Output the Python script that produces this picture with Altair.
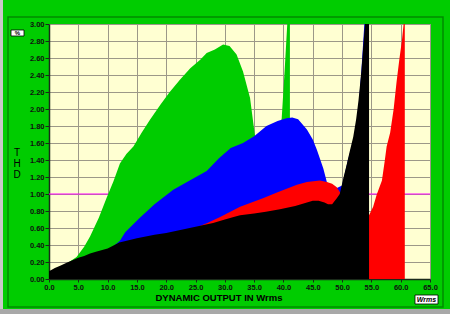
import altair as alt
import pandas as pd

# ---- data (x = dynamic output in Wrms, y = THD %) ----
green_p = [0, 3, 4.7, 6, 7, 8.5, 9.8, 11, 12.1, 13.2, 14.4, 15.8, 17.2, 19, 20.6, 22.3, 24.1,
           25.8, 26.9, 28.3, 29.7, 30.8, 32, 33.1, 34.3, 34.9, 35.3, 36.5, 38, 39, 39.7, 40.2,
           40.65, 41.1]
green_thd = [0.07, 0.18, 0.26, 0.38, 0.5, 0.72, 0.95, 1.15, 1.36, 1.47, 1.56, 1.72, 1.87, 2.05,
             2.2, 2.34, 2.48, 2.58, 2.66, 2.7, 2.76, 2.74, 2.64, 2.44, 2.13, 1.81, 1.6, 1.45,
             1.45, 1.6, 1.89, 2.45, 3.0, 3.0]

blue_p = [0, 5, 10, 12.1, 13, 15.5, 18, 21.2, 24, 26.9, 29, 31, 33.1, 35, 37.1, 39, 40.5, 41.5,
          42.5, 44, 45, 45.7, 46.8, 47.4, 48.5, 50, 51, 52, 52.8, 53.3, 53.8, 54.2]
blue_thd = [0.07, 0.23, 0.33, 0.45, 0.55, 0.72, 0.88, 1.05, 1.16, 1.27, 1.42, 1.54, 1.6, 1.68,
            1.8, 1.86, 1.89, 1.9, 1.88, 1.76, 1.64, 1.52, 1.30, 1.14, 1.05, 1.1, 1.4, 1.65, 2.0,
            2.46, 3.0, 3.0]

red_p = [0, 5, 10, 15, 20, 24.6, 27, 29.2, 32.6, 36.5, 39, 42.3, 44, 46.2, 47.4, 48.3, 49.1, 50,
         51, 52, 53, 54, 54.6, 55.3, 55.9, 56.8, 57.3, 57.6, 58.2, 58.8, 59.3, 59.8, 60.2, 60.5,
         60.7]
red_thd = [0.07, 0.23, 0.33, 0.46, 0.52, 0.59, 0.66, 0.73, 0.85, 0.95, 1.02, 1.11, 1.14, 1.16,
           1.14, 1.12, 1.08, 0.98, 0.9, 0.82, 0.77, 0.74, 0.75, 0.85, 0.99, 1.16, 1.40, 1.56,
           1.72, 2.0, 2.32, 2.6, 2.8, 3.0, 3.0]

black_p = [0, 1, 2, 3, 4, 5, 6, 7, 8, 10, 12, 15, 18, 20, 22, 24, 26, 28, 30, 31.5, 32.6, 35, 37,
           39.4, 42, 44, 45, 46, 47, 47.6, 48.3, 49.1, 49.6, 50.2, 50.8, 51.3, 51.9, 52.4, 52.8,
           53.3, 53.9, 54.6]
black_thd = [0.09, 0.13, 0.16, 0.19, 0.22, 0.25, 0.27, 0.30, 0.32, 0.36, 0.43, 0.48, 0.52, 0.54,
             0.57, 0.60, 0.63, 0.66, 0.70, 0.73, 0.75, 0.77, 0.79, 0.82, 0.86, 0.90, 0.92, 0.92,
             0.90, 0.88, 0.88, 0.95, 1.0, 1.18, 1.35, 1.5, 1.67, 1.88, 2.1, 2.45, 3.0, 3.0]

x_ticks = [i * 5 for i in range(14)]
y_ticks = [round(i * 0.2, 1) for i in range(16)]
ref_level = 1.0

FONT = "Liberation Sans"

x_scale = alt.Scale(domain=[0, 65], nice=False, zero=False)
y_scale = alt.Scale(domain=[0, 3], nice=False)

x_axis = alt.Axis(values=x_ticks, format=".1f", title=None, grid=True, gridColor="#9c9888",
                  gridWidth=1, domainColor="#1a2a1a", domainWidth=1.5, tickColor="#1a2a1a",
                  tickSize=3, labelFont=FONT, labelFontSize=7.5, labelFontWeight="bold",
                  labelColor="#101010", labelPadding=1, labelFlush=False)
y_axis = alt.Axis(values=y_ticks, format=".2f", title=None, grid=True, gridColor="#9c9888",
                  gridWidth=1, domainColor="#1a2a1a", domainWidth=1.5, tickColor="#1a2a1a",
                  tickSize=4, labelFont=FONT, labelFontSize=7.5, labelFontWeight="bold",
                  labelColor="#101010", labelPadding=1, labelFlush=False)


def area(p, thd, color):
    df = pd.DataFrame({"P": p, "THD": thd})
    return alt.Chart(df).mark_area(color=color, opacity=1, interpolate="linear").encode(
        x=alt.X("P:Q", scale=x_scale, axis=x_axis),
        y=alt.Y("THD:Q", scale=y_scale, axis=y_axis))


one = pd.DataFrame({"a": [0]})

rule = alt.Chart(one).mark_rule(color="#ff00ff", strokeWidth=1).encode(
    y=alt.datum(ref_level, scale=y_scale, axis=y_axis), x=alt.value(0), x2=alt.value(381))

g = area(green_p, green_thd, "#00cc00")
b = area(blue_p, blue_thd, "#0000ff")
r = area(red_p, red_thd, "#ff0000")
k = area(black_p, black_thd, "#000000")

frame = alt.Chart(one).mark_rect(fillOpacity=0, stroke="#008a00", strokeWidth=1.5).encode(
    x=alt.value(-41), x2=alt.value(394), y=alt.value(-7), y2=alt.value(283))
left_strip = alt.Chart(one).mark_rect(color="#c8c8c8").encode(
    x=alt.value(-49), x2=alt.value(-46), y=alt.value(-24), y2=alt.value(290))
bottom_strip = alt.Chart(one).mark_rect(color="#a8a8a8").encode(
    x=alt.value(-49), x2=alt.value(401), y=alt.value(285), y2=alt.value(290))


def label(txt, x, y, size=10, weight="normal", style="normal", align="center"):
    return alt.Chart(one).mark_text(text=txt, font=FONT, fontSize=size, fontWeight=weight,
                                    fontStyle=style, color="#000000", align=align,
                                    baseline="middle").encode(x=alt.value(x), y=alt.value(y))


t1 = label("T", -32, 129)
t2 = label("H", -32, 140)
t3 = label("D", -32, 151)
xtitle = label("DYNAMIC OUTPUT IN Wrms", 170, 274, size=9.5, weight="bold")

pct_box = alt.Chart(one).mark_rect(fill="#ffffff", stroke="#000000", strokeWidth=0.8).encode(
    x=alt.value(-38), x2=alt.value(-25), y=alt.value(6), y2=alt.value(12))
pct_txt = label("%", -31.5, 9, size=6, weight="bold")
w_box = alt.Chart(one).mark_rect(fill="#ffffff", stroke="#000000", strokeWidth=0.8).encode(
    x=alt.value(366), x2=alt.value(389), y=alt.value(271), y2=alt.value(280))
w_txt = label("Wrms", 377.5, 275.5, size=7, weight="bold", style="italic")

chart = alt.layer(
    rule, g, b, r, k, frame, left_strip, bottom_strip, t1, t2, t3, xtitle,
    pct_box, pct_txt, w_box, w_txt
).properties(
    width=381, height=255, background="#00cc00",
    padding={"left": 49, "top": 24, "right": 20, "bottom": 35},
    autosize=alt.AutoSizeParams(type="none")
).configure_view(fill="#ffffd2", stroke="#9c9888", strokeWidth=1)

chart.save("out.html", embed_options={"renderer": "svg", "actions": False})
